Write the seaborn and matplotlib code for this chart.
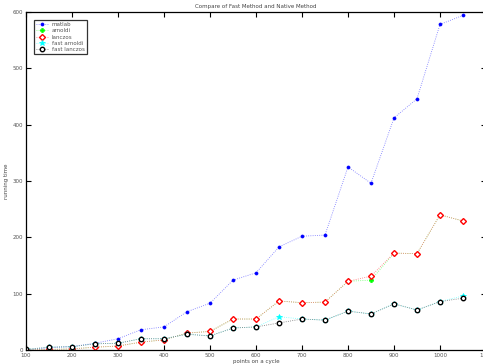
import matplotlib
matplotlib.use("Agg")
import matplotlib.pyplot as plt
import matplotlib.colors as mc
import seaborn as sns
import pandas as pd

points = [100, 150, 200, 250, 300, 350, 400, 450, 500, 550,
          600, 650, 700, 750, 800, 850, 900, 950, 1000, 1050]
matlab = [0, 4, 6, 12, 20, 36, 41, 68, 83, 124,
          137, 183, 202, 204, 325, 296, 412, 446, 578, 594]
arnoldi = [0, 1, 2, 5, 7, 14, 18, 30, 33, 55,
           55, 87, 84, 85, 122, 124, 172, 171, 240, 229]
lanczos = [0, 1, 2, 5, 7, 14, 18, 30, 33, 55,
           55, 87, 84, 85, 122, 131, 172, 171, 240, 229]
fast_arnoldi = [1, 5, 6, 11, 12, 20, 20, 28, 25, 39,
                41, 59, 55, 53, 69, 64, 82, 71, 86, 96]
fast_lanczos = [1, 5, 6, 11, 12, 20, 20, 28, 25, 39,
                41, 48, 55, 53, 69, 64, 82, 71, 86, 92]

series = [
    ("matlab", matlab, "blue", "o", 2.2, "blue", 0.5),
    ("arnoldi", arnoldi, "#00ff00", "P", 3.2, "#00ff00", 0.4),
    ("lanczos", lanczos, "red", "D", 3.0, "white", 1.0),
    ("fast arnoldi", fast_arnoldi, "cyan", "*", 4.2, "cyan", 0.5),
    ("fast lanczos", fast_lanczos, "black", "o", 3.2, "white", 1.0),
]

sns.set_style("ticks")
plt.rcParams.update({
    "xtick.direction": "in", "ytick.direction": "in",
    "xtick.top": True, "ytick.right": True,
    "xtick.major.size": 3.5, "ytick.major.size": 3.5,
    "xtick.major.width": 0.8, "ytick.major.width": 0.8,
    "font.size": 4,
})
plt.rcParams["font.family"] = ["DejaVu Sans"]

fig = plt.figure(figsize=(4.83, 3.64), dpi=100)
ax = fig.add_axes([26/483, 1-350/364, (486-26)/483, (350-12)/364])

for name, vals, col, mk, ms, mfc, mew in series:
    df = pd.DataFrame({"points": points, "time": vals})
    sns.lineplot(data=df, x="points", y="time", ax=ax, color=col,
                 linestyle=":", linewidth=0.6, marker=mk, markersize=ms,
                 markerfacecolor=mfc, markeredgecolor=col, markeredgewidth=mew,
                 label=name)

# lighten the dotted connecting lines while keeping markers solid
for ln in ax.get_lines():
    r, g, b = mc.to_rgb(ln.get_color())
    ln.set_color((r + (1 - r) * 0.45, g + (1 - g) * 0.45, b + (1 - b) * 0.45))

ax.set_xlim(100, 1100)
ax.set_ylim(0, 600)
ax.set_xticks(range(100, 1101, 100))
ax.set_yticks(range(0, 601, 100))
ax.tick_params(labelsize=4, pad=2, colors="black")
for tl in ax.get_xticklabels() + ax.get_yticklabels():
    tl.set_color("#555555")
for s in ax.spines.values():
    s.set_linewidth(0.9)
    s.set_color("black")

ax.set_title("Compare of Fast Method and Native Method", fontsize=4, color="#444444", pad=3)
ax.set_xlabel("points on a cycle", fontsize=4, color="#444444", labelpad=1)
ax.set_ylabel("running time", fontsize=4, color="#444444")
ax.yaxis.set_label_coords(-0.037, 0.5)

leg = ax.legend(loc="upper left", bbox_to_anchor=(0.012, 0.985), fontsize=4,
                frameon=True, fancybox=False, handlelength=2.2,
                borderpad=0.35, labelspacing=0.25, handletextpad=0.6)
leg.get_frame().set_edgecolor("black")
leg.get_frame().set_linewidth(0.9)
for t in leg.get_texts():
    t.set_color("#555555")

fig.savefig("out.png", dpi=100)
